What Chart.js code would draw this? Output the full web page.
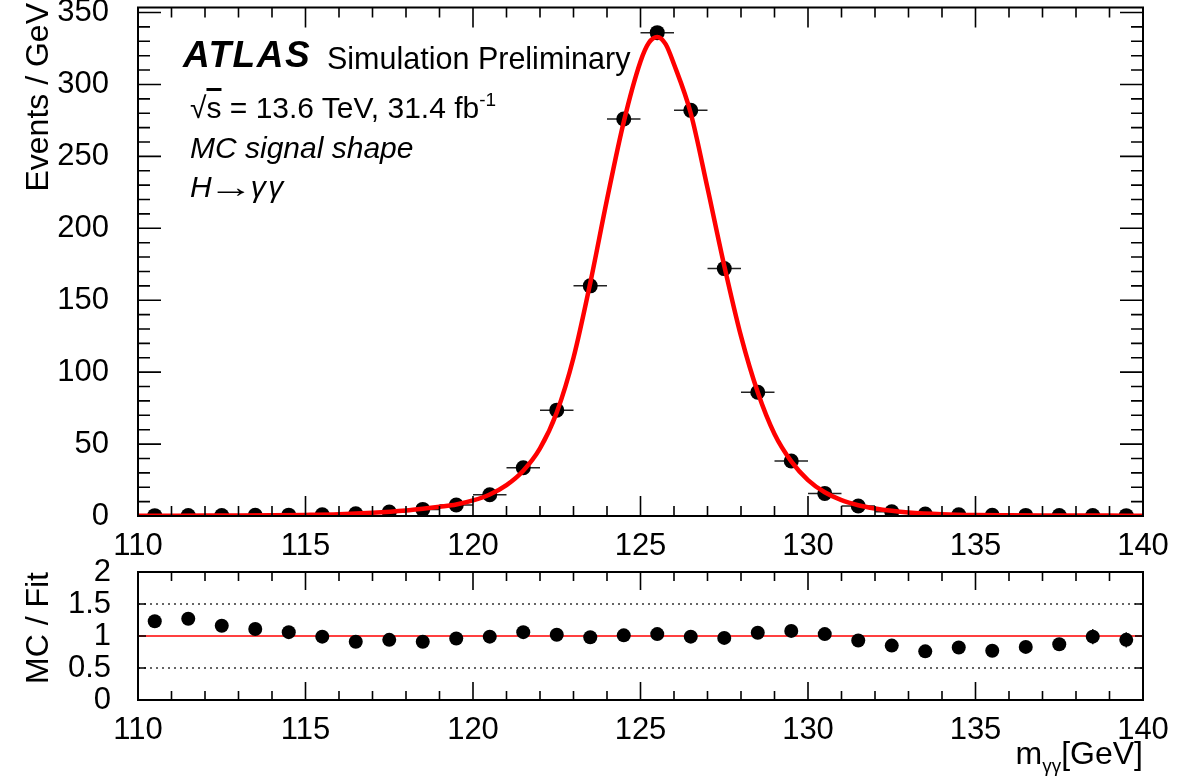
<!DOCTYPE html>
<html>
<head>
<meta charset="utf-8">
<script src="https://cdn.jsdelivr.net/npm/chart.js@4.4.1/dist/chart.umd.min.js"></script>
<style>
    body { margin: 0; background: #fff; width: 1189px; height: 782px; overflow: hidden; position: relative; font-family: 'Liberation Sans', Arial, sans-serif; }
    #main-wrap { position: absolute; left: 0; top: 0; width: 1189px; height: 566px; }
    #ratio-wrap { position: absolute; left: 0; top: 540px; width: 1189px; height: 242px; }
    .lbl { position: absolute; white-space: nowrap; color: #000; line-height: 1; }
    .ytitle { position: absolute; width: 300px; text-align: right; line-height: 1; font-size: 32px; transform-origin: top left; transform: rotate(-90deg); white-space: nowrap; }
    .arrow { display: inline-block; font-style: normal; transform: scaleX(1.5); margin: 0 5px 0 4px; }
</style>
</head>
<body>
<div id="main-wrap"><canvas id="main-chart" width="1189" height="566"></canvas></div>
<div id="ratio-wrap"><canvas id="ratio-chart" width="1189" height="242"></canvas></div>

<div class="lbl" style="left:183px; top:36px; font-size:37px; font-weight:bold; font-style:italic; letter-spacing:1.5px;">ATLAS</div>
<div class="lbl" style="left:327px; top:43px; font-size:30.5px;">Simulation Preliminary</div>
<div class="lbl" style="left:190px; top:90px; font-size:30px;">√<span style="text-decoration:overline;">s</span> = 13.6 TeV, 31.4 fb<sup style="font-size:19px; vertical-align:12px;">-1</sup></div>
<div class="lbl" style="left:190px; top:133px; font-size:30px; font-style:italic;">MC signal shape</div>
<div class="lbl" style="left:190px; top:172px; font-size:30px; font-style:italic;">H<span class="arrow">→</span>γ&#8202;γ</div>

<div class="ytitle" style="left:21px; top:303px;">Events / GeV</div>
<div class="ytitle" style="left:21px; top:872px;">MC / Fit</div>
<div class="lbl" style="right:46px; top:737px; font-size:32px;">m<sub style="font-size:19px; vertical-align:-8px;">γγ</sub>[GeV]</div>

<script>
const binCenters = [110.5, 111.5, 112.5, 113.5, 114.5, 115.5, 116.5, 117.5, 118.5, 119.5,
                    120.5, 121.5, 122.5, 123.5, 124.5, 125.5, 126.5, 127.5, 128.5, 129.5,
                    130.5, 131.5, 132.5, 133.5, 134.5, 135.5, 136.5, 137.5, 138.5, 139.5];
const mcEvents = [0.25, 0.3, 0.35, 0.45, 0.6, 0.85, 1.5, 2.8, 4.6, 7.6,
                  14.8, 33.5, 73.6, 160, 276, 336, 282, 172, 86, 38.2,
                  15.7, 7, 3, 1.4, 0.8, 0.5, 0.4, 0.3, 0.3, 0.25];
const mcErrors = [0.03, 0.04, 0.04, 0.04, 0.05, 0.06, 0.08, 0.1, 0.15, 0.2,
                  0.3, 0.5, 0.8, 1.2, 1.6, 1.8, 1.6, 1.3, 0.9, 0.6,
                  0.35, 0.2, 0.12, 0.08, 0.06, 0.05, 0.04, 0.04, 0.04, 0.03];

const fitMass = [110, 111, 112, 113, 114, 115, 116, 117, 118, 118.5, 119, 119.5, 120, 120.5,
                 121, 121.5, 122, 122.5, 123, 123.5, 124, 124.5, 125, 125.25, 125.5, 125.75,
                 126, 126.5, 127, 127.5, 128, 128.5, 129, 129.5, 130, 130.5, 131, 131.5,
                 132, 132.5, 133, 134, 135, 136, 137, 138, 139, 140];
const fitValues = [0.18, 0.22, 0.28, 0.36, 0.5, 0.75, 1.2, 2.2, 3.8, 5, 6.4, 8, 10.8, 15,
                   21.5, 31.5, 47, 72, 110, 162, 220, 274, 316, 329, 333, 328,
                   314, 280, 228, 174, 125, 86, 57, 38, 25, 16.5, 11, 7.5,
                   5.2, 3.6, 2.5, 1.3, 0.7, 0.48, 0.38, 0.32, 0.27, 0.22];

const ratioValues = [1.23, 1.27, 1.16, 1.11, 1.06, 0.99, 0.91, 0.94, 0.91, 0.96,
                     0.99, 1.06, 1.02, 0.98, 1.01, 1.03, 0.99, 0.97, 1.05, 1.08,
                     1.03, 0.93, 0.85, 0.76, 0.82, 0.77, 0.83, 0.87, 0.99, 0.94];
const ratioErrors = [0.06, 0.06, 0.05, 0.05, 0.04, 0.04, 0.03, 0.03, 0.02, 0.02,
                     0.01, 0.01, 0.01, 0.01, 0.01, 0.01, 0.01, 0.01, 0.01, 0.01,
                     0.02, 0.02, 0.03, 0.04, 0.05, 0.06, 0.07, 0.08, 0.12, 0.12];

const xTicks = [110, 115, 120, 125, 130, 135, 140];
const mainYTicks = [0, 50, 100, 150, 200, 250, 300, 350];
const ratioYTicks = [0, 0.5, 1, 1.5, 2];
const ratioGuides = [0.5, 1.5];
const ratioRef = 1;

const FONT = "'Liberation Sans', Arial, sans-serif";

// ROOT style frame with inward ticks on all four sides
const frameTicks = {
    id: 'frameTicks',
    afterDatasetsDraw(chart, args, o) {
        const { ctx, chartArea: a, scales: { x, y } } = chart;
        ctx.save();
        ctx.strokeStyle = '#000';
        ctx.lineWidth = 1.6;
        ctx.beginPath();
        for (let v = x.min; v <= x.max + 1e-6; v += o.xMinor) {
            const px = x.getPixelForValue(v);
            const major = Math.abs(v / o.xMajor - Math.round(v / o.xMajor)) < 1e-6;
            const len = major ? o.xMajorLen : o.xMinorLen;
            ctx.moveTo(px, a.bottom); ctx.lineTo(px, a.bottom - len);
            ctx.moveTo(px, a.top); ctx.lineTo(px, a.top + len);
        }
        for (let v = y.min; v <= y.max + 1e-6; v += o.yMinor) {
            const py = y.getPixelForValue(v);
            const major = Math.abs(v / o.yMajor - Math.round(v / o.yMajor)) < 1e-6;
            const len = major ? o.yMajorLen : o.yMinorLen;
            ctx.moveTo(a.left, py); ctx.lineTo(a.left + len, py);
            ctx.moveTo(a.right, py); ctx.lineTo(a.right - len, py);
        }
        ctx.stroke();
        ctx.lineWidth = 2;
        ctx.strokeRect(a.left, a.top, a.width, a.height);
        ctx.restore();
    }
};

// bin-width and vertical error bars under the markers
const errorBars = {
    id: 'errorBars',
    beforeDatasetsDraw(chart, args, o) {
        const { ctx, chartArea: a, scales: { x, y } } = chart;
        ctx.save();
        ctx.beginPath();
        ctx.rect(a.left, a.top, a.width, a.height);
        ctx.clip();
        ctx.strokeStyle = '#222';
        ctx.lineWidth = 1.5;
        ctx.beginPath();
        o.xs.forEach((xv, i) => {
            const px = x.getPixelForValue(xv);
            const py = y.getPixelForValue(o.ys[i]);
            if (o.xHalf) {
                ctx.moveTo(x.getPixelForValue(xv - o.xHalf), py);
                ctx.lineTo(x.getPixelForValue(xv + o.xHalf), py);
            }
            ctx.moveTo(px, y.getPixelForValue(o.ys[i] - o.errs[i]));
            ctx.lineTo(px, y.getPixelForValue(o.ys[i] + o.errs[i]));
        });
        ctx.stroke();
        ctx.restore();
    }
};

// dotted guides and red reference line of the ratio panel
const ratioLines = {
    id: 'ratioLines',
    beforeDatasetsDraw(chart) {
        const { ctx, chartArea: a, scales: { y } } = chart;
        ctx.save();
        ctx.strokeStyle = '#333';
        ctx.lineWidth = 1.5;
        ctx.setLineDash([2, 4]);
        ratioGuides.forEach(v => {
            const py = y.getPixelForValue(v);
            ctx.beginPath(); ctx.moveTo(a.left, py); ctx.lineTo(a.right, py); ctx.stroke();
        });
        ctx.setLineDash([]);
        ctx.strokeStyle = '#ff0000';
        ctx.lineWidth = 1.5;
        const py = y.getPixelForValue(ratioRef);
        ctx.beginPath(); ctx.moveTo(a.left, py); ctx.lineTo(a.right, py); ctx.stroke();
        ctx.restore();
    }
};

function xScale(height) {
    return {
        type: 'linear', min: 110, max: 140,
        afterBuildTicks: s => { s.ticks = xTicks.map(v => ({ value: v })); },
        afterFit: s => { s.height = height; s.paddingLeft = 0; s.paddingRight = 0; },
        grid: { display: false, drawTicks: false },
        border: { display: false },
        ticks: { color: '#000', padding: 12, maxRotation: 0, autoSkip: false, font: { family: FONT, size: 31 } }
    };
}

function yScale(min, max, ticks, pad) {
    return {
        type: 'linear', min: min, max: max,
        afterBuildTicks: s => { s.ticks = ticks.map(v => ({ value: v })); },
        afterFit: s => { s.width = 138; s.paddingTop = 0; s.paddingBottom = 0; },
        grid: { display: false, drawTicks: false },
        border: { display: false },
        ticks: { color: '#000', padding: pad, autoSkip: false, font: { family: FONT, size: 31 }, callback: v => String(v) }
    };
}

new Chart(document.getElementById('main-chart'), {
    type: 'scatter',
    data: {
        datasets: [
            {
                type: 'line',
                data: fitMass.map((m, i) => ({ x: m, y: fitValues[i] })),
                borderColor: '#ff0000',
                borderWidth: 4.5,
                pointRadius: 0,
                cubicInterpolationMode: 'monotone',
                order: 0
            },
            {
                data: binCenters.map((m, i) => ({ x: m, y: mcEvents[i] })),
                backgroundColor: '#000',
                borderWidth: 0,
                pointRadius: 7.5,
                order: 1
            }
        ]
    },
    options: {
        responsive: false,
        animation: false,
        devicePixelRatio: 1,
        layout: { padding: { left: 0, right: 46, top: 7, bottom: 0 } },
        scales: { x: xScale(50), y: yScale(0, 353.5, mainYTicks, 29) },
        plugins: {
            legend: { display: false },
            tooltip: { enabled: false },
            errorBars: { xs: binCenters, ys: mcEvents, errs: mcErrors, xHalf: 0.5 },
            frameTicks: { xMajor: 5, xMinor: 1, xMajorLen: 20, xMinorLen: 10, yMajor: 50, yMinor: 10, yMajorLen: 23, yMinorLen: 12 }
        }
    },
    plugins: [errorBars, frameTicks]
});

new Chart(document.getElementById('ratio-chart'), {
    type: 'scatter',
    data: {
        datasets: [{
            data: binCenters.map((m, i) => ({ x: m, y: ratioValues[i] })),
            backgroundColor: '#000',
            borderWidth: 0,
            pointRadius: 7
        }]
    },
    options: {
        responsive: false,
        animation: false,
        devicePixelRatio: 1,
        layout: { padding: { left: 0, right: 46, top: 32, bottom: 0 } },
        scales: { x: xScale(82), y: yScale(0, 2, ratioYTicks, 27) },
        plugins: {
            legend: { display: false },
            tooltip: { enabled: false },
            errorBars: { xs: binCenters, ys: ratioValues, errs: ratioErrors, xHalf: 0 },
            frameTicks: { xMajor: 5, xMinor: 1, xMajorLen: 18, xMinorLen: 9, yMajor: 0.5, yMinor: 0.5, yMajorLen: 8, yMinorLen: 8 }
        }
    },
    plugins: [ratioLines, errorBars, frameTicks]
});
</script>
</body>
</html>
